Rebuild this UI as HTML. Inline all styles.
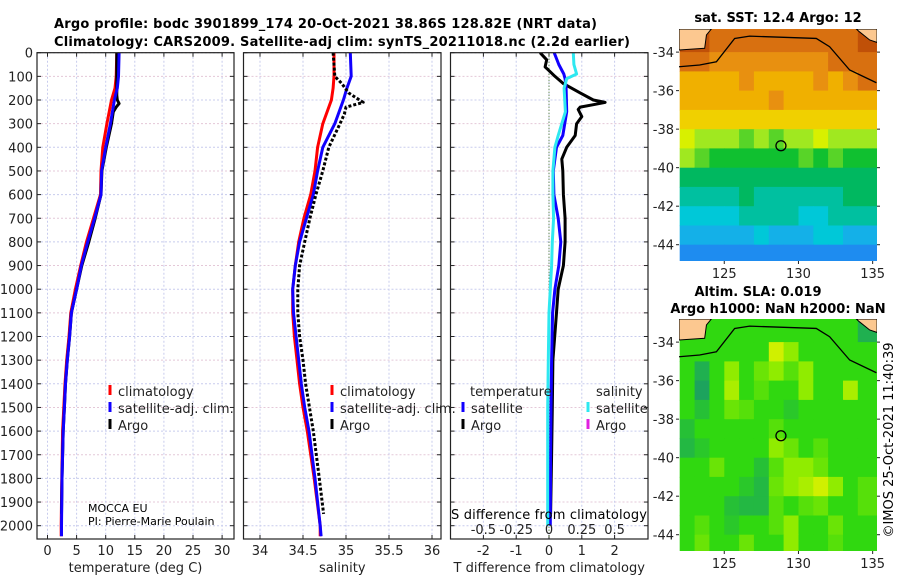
<!DOCTYPE html>
<html><head><meta charset="utf-8"><style>
html,body{margin:0;padding:0;background:#fff}
svg{display:block;font-family:"DejaVu Sans","Liberation Sans",sans-serif}
</style></head><body>
<svg id="fig" width="900" height="580" viewBox="0 0 900 580" xmlns="http://www.w3.org/2000/svg">
<text x="54" y="28" font-size="13" font-weight="bold" textLength="543">Argo profile: bodc 3901899_174 20-Oct-2021 38.86S 128.82E (NRT data)</text>
<text x="54" y="46" font-size="13" font-weight="bold" textLength="576">Climatology: CARS2009. Satellite-adj clim: synTS_20211018.nc (2.2d earlier)</text>
<g id="plots"></g>
<text x="88" y="512" font-size="11">MOCCA EU</text>
<text x="88" y="525" font-size="11">PI: Pierre-Marie Poulain</text>
<text x="451" y="519" font-size="13" textLength="196">S difference from climatology</text>
<text x="889" y="440" font-size="13" text-anchor="middle" transform="rotate(-90 889 440)" dy="4">©IMOS 25-Oct-2021 11:40:39</text>
<text x="778" y="22" font-size="13" font-weight="bold" text-anchor="middle">sat. SST: 12.4 Argo: 12</text>
<text x="758" y="296" font-size="13" font-weight="bold" text-anchor="middle">Altim. SLA: 0.019</text>
<text x="778" y="313" font-size="13" font-weight="bold" text-anchor="middle">Argo h1000: NaN h2000: NaN</text>
</svg>
<script>
// ---------- data ----------
const depthTicks=[0,100,200,300,400,500,600,700,800,900,1000,1100,1200,1300,1400,1500,1600,1700,1800,1900,2000];
const tempTicks=[0,5,10,15,20,25,30];
const salTicks=[34,34.5,35,35.5,36];
const tdiffTicks=[-2,-1,0,1,2];
const sdiffTicks=[-0.5,-0.25,0,0.25,0.5];
const sdiffTickLabels=["-0.5","-0.25","0","0.25","0.5"];
const dClim=[0,100,150,200,300,400,500,600,700,800,900,1000,1100,1200,1300,1400,1500,1600,1800,2000,2045];
const tClim=[11.9,11.8,11.6,11.0,10.2,9.5,9.2,9.1,7.9,6.7,5.7,4.8,4.0,3.7,3.3,3.0,2.8,2.6,2.45,2.35,2.35];
const tSat=[12.3,12.2,12.0,11.5,10.8,10.0,9.3,9.2,8.1,6.9,5.8,5.0,4.1,3.8,3.4,3.1,2.9,2.7,2.5,2.4,2.4];
const dArgoT=[0,100,180,200,215,230,250,300,400,500,600,700,800,900,1000,1100,1200,1300,1400,1500,1600,1800,1950];
const tArgo=[11.9,11.9,11.9,12.0,12.3,11.8,11.3,11.0,10.1,9.35,9.2,8.2,7.1,5.9,5.0,4.1,3.8,3.4,3.1,2.9,2.7,2.5,2.4];
const sClim=[34.86,34.86,34.85,34.83,34.73,34.67,34.64,34.59,34.51,34.45,34.41,34.38,34.38,34.40,34.43,34.46,34.50,34.55,34.63,34.70,34.70];
const sSat=[35.05,35.06,35.01,34.97,34.87,34.73,34.67,34.62,34.54,34.46,34.41,34.38,34.39,34.42,34.45,34.48,34.52,34.57,34.64,34.70,34.71];
const dArgoS=[0,50,100,130,170,210,230,260,300,400,500,600,700,800,900,1000,1100,1200,1300,1400,1600,1800,1950];
const sArgo=[34.85,34.86,34.87,34.95,35.03,35.2,35.0,34.98,34.93,34.80,34.73,34.65,34.58,34.52,34.46,34.44,34.44,34.46,34.50,34.53,34.62,34.69,34.74];
const dDiff=[0,50,90,110,150,250,350,400,500,600,700,800,900,1000,1100,1300,1500,1700,2000];
const tDiffSat=[0.16,0.3,0.45,0.49,0.52,0.54,0.42,0.23,0.13,0.15,0.28,0.36,0.3,0.18,0.11,0.08,0.06,0.05,0.04];
const sDiffSat=[0.185,0.19,0.21,0.135,0.115,0.125,0.07,0.045,0.03,0.03,0.035,0.025,0.02,0.01,0.0,-0.005,-0.01,-0.01,-0.01];
const dArgoDiff=[0,30,60,80,100,130,170,200,210,220,230,240,270,300,350,400,450,500,600,700,800,900,1000,1100,1300,1500,1700,1950];
const tDiffArgo=[-0.27,-0.07,-0.12,0.03,0.18,0.43,0.95,1.35,1.71,1.35,0.95,0.89,1.0,0.84,0.8,0.54,0.39,0.42,0.44,0.49,0.49,0.44,0.28,0.23,0.12,0.1,0.08,0.05];
// maps
const mapLats=[-33,-34,-35,-36,-37,-38,-39,-40,-41,-42,-43,-44,-45];
const mapLons=[122,123,124,125,126,127,128,129,130,131,132,133,134,135,136];
const latTicks=[-34,-36,-38,-40,-42,-44];
const lonTicks=[125,130,135];
const sst=[
[18,18,17,17,17,17,17,17,17,17,17,17,18,18],
[17,17,16,16,16,16,16,16,16,16,17,17,17,17],
[15,15,15,15,16,15,15,15,15,16,15,16,17,17],
[15,15,15,15,15,15,16,15,15,15,15,15,15,15],
[14,14,14,14,14,14,14,14,14,14,14,14,14,14],
[13.5,13,13,13,12.5,13,12.5,13,13,13.5,13,13,13,13],
[13,12.5,12,12,12,12,12,12,12.5,12,12.5,12,12,12],
[11.5,11.5,11.5,11.5,11.5,11.5,11.5,11.5,11.5,11.5,11.5,11.5,11.5,11.5],
[11,11,11,11,11.5,11,11,11,11,11,11,11.5,11.5,11.5],
[10.5,10.5,10.5,10.5,11,11,11,11,10.5,10.5,11,11,11,11],
[10,10,10,10,10,10.5,10,10,10,10.5,10.5,10,10,10],
[9.5,9.5,9.5,9.5,9.5,9.5,9.5,9.5,9.5,9.5,9.5,9.5,9.5,9.5]];
const sla=[
[1,1,1,1,1,1,1,1,1,1,1,1,0.5,0.5],
[1,1,1,1,1,1,2,1.5,1,1,1,1,1,1],
[1,0.5,1,1.5,1,1.3,1.5,1.2,1.5,1,1,1,1,1],
[1,0.3,1,1.7,1,1.2,1,1,1.5,1,1,1.7,1,1],
[1,0.7,1,1.3,1.2,1,1,0.8,1,1,1,1,1,1],
[0.7,1,1,1,1,1,1.2,1,1,1,1,1,1,1],
[0.6,0.8,1,1,1,1,1.5,1.3,1,1.2,1,1,1,1],
[1,1,1.3,1,1,0.7,1.2,1.5,1.5,1.3,1,1,1,1],
[1,1,1,1,0.8,0.6,1.3,1.5,1.7,2,1.5,1,1.2,1.2],
[1,1,1,0.7,0.6,0.6,1.2,1,1.2,1.3,1,1,1.2,1.2],
[1,1.2,1,0.8,1,1,1.2,1.5,1,1,1.3,1,1,1],
[1,1.3,1,1,1.3,1,1,1.5,1,1,1.2,1,1,1]];
const shelfLon=[121.95,123.34,124.47,125.7,126.71,131.2,132.1,133.45,135.25];
const shelfLat=[-34.76,-34.67,-34.5,-33.29,-33.17,-33.29,-33.72,-34.93,-35.59];
const landLLon=[121.95,124.13,123.8,123.68,121.95];
const landLLat=[-32.8,-32.8,-33.11,-33.8,-33.89];
const landRLon=[133.9,135.3,135.3,134.8,134.1];
const landRLat=[-32.8,-32.8,-33.5,-33.37,-32.94];
const argoLon=128.82, argoLat=-38.86;

// ---------- drawing ----------
const NS='http://www.w3.org/2000/svg';
const root=document.getElementById('plots');
function mk(tag,attrs,parent){const e=document.createElementNS(NS,tag);for(const k in attrs)e.setAttribute(k,attrs[k]);(parent||root).appendChild(e);return e;}
const Y0=52.7,YS=0.2365,PT=52.7,PB=539;
const yD=d=>Y0+d*YS;
const panels=[
 {x0:37,x1:234,fx:v=>47.5+v*5.82,ticks:tempTicks,labels:tempTicks.map(String),title:'temperature (deg C)',name:'temperature'},
 {x0:243.5,x1:441,fx:v=>260+(v-34)*86,ticks:salTicks,labels:salTicks.map(String),title:'salinity',name:'salinity'},
 {x0:450.5,x1:648,fx:v=>549+v*32.8,ticks:tdiffTicks,labels:tdiffTicks.map(String),title:'T difference from climatology',name:'difference'}];
const fxS=v=>549+v*4*32.8;
panels.forEach((p,i)=>{
 const g=mk('g',{});
 
 
 mk('rect',{x:p.x0,y:PT,width:p.x1-p.x0,height:PB-PT,fill:'#fff'},g);
 depthTicks.forEach((d,k)=>{
  const l=mk('line',{x1:p.x0,x2:p.x1,y1:yD(d),y2:yD(d),stroke:k%2?'#e4c8d8':'#c8cced','stroke-width':1,'stroke-dasharray':'2,2'},g);
  
  
  mk('line',{x1:p.x0,x2:p.x0+4,y1:yD(d),y2:yD(d),stroke:'#222'},g);
  mk('line',{x1:p.x1-4,x2:p.x1,y1:yD(d),y2:yD(d),stroke:'#222'},g);
  if(i===0){const t=mk('text',{x:33,y:yD(d)+5,'font-size':13,'text-anchor':'end',fill:'#222'},g);t.textContent=d;
   
   }
 });
 p.ticks.forEach((v,k)=>{
  const x=p.fx(v);
  mk('line',{x1:x,x2:x,y1:PT,y2:PB,stroke:'#c8cced','stroke-width':1,'stroke-dasharray':'2,2'},g);
  mk('line',{x1:x,x2:x,y1:PB-4,y2:PB,stroke:'#222'},g);
  mk('line',{x1:x,x2:x,y1:PT,y2:PT+4,stroke:'#222'},g);
  const t=mk('text',{x:x,y:555,'font-size':13,'text-anchor':'middle',fill:'#222'},g);t.textContent=p.labels[k];
  
  
 });
 const at=mk('text',{x:(p.x0+p.x1)/2,y:572,'font-size':13,'text-anchor':'middle',fill:'#222'},g);at.textContent=p.title;
 
 
 p.g=g;
});
function line(g,xs,ds,fx,color,w,dash,name){
 const pts=xs.map((v,k)=>fx(v).toFixed(1)+','+yD(ds[k]).toFixed(1)).join(' ');
 const a={points:pts,fill:'none',stroke:color,'stroke-width':w,'stroke-linejoin':'round'};
 if(dash)a['stroke-dasharray']=dash;
 const e=mk('polyline',a,g);
 
 
}
const defs=mk('defs',{});
panels.forEach((p,i)=>{const c=mk('clipPath',{id:'c'+i},defs);mk('rect',{x:p.x0,y:PT,width:p.x1-p.x0,height:PB-PT},c);});
const g0=mk('g',{'clip-path':'url(#c0)'},panels[0].g),g1=mk('g',{'clip-path':'url(#c1)'},panels[1].g),g2=mk('g',{'clip-path':'url(#c2)'},panels[2].g);
line(g0,tClim,dClim,panels[0].fx,'#f00',3,null,'temperature-climatology-line');
line(g0,tArgo,dArgoT,panels[0].fx,'#000',3,null,'temperature-argo-line');
line(g0,tSat,dClim,panels[0].fx,'#10f',3,null,'temperature-satellite-line');
line(g1,sClim,dClim,panels[1].fx,'#f00',3,null,'salinity-climatology-line');
line(g1,sSat,dClim,panels[1].fx,'#10f',3,null,'salinity-satellite-line');
line(g1,sArgo,dArgoS,panels[1].fx,'#000',3,'3,2','salinity-argo-line');
{const z=mk('line',{x1:549,x2:549,y1:PT,y2:PB,stroke:'#3a6a20','stroke-width':1,'stroke-dasharray':'1,2'},g2);
 
 }
line(g2,tDiffArgo,dArgoDiff,panels[2].fx,'#000',3,null,'tdiff-argo-line');
line(g2,tDiffSat,dDiff,panels[2].fx,'#10f',3,null,'tdiff-satellite-line');
line(g2,sDiffSat,dDiff,fxS,'#2ee8f0',3,null,'sdiff-satellite-line');
panels.forEach(p=>mk('rect',{x:p.x0,y:PT,width:p.x1-p.x0,height:PB-PT,fill:'none',stroke:'#222','stroke-width':1.2},p.g));
sdiffTicks.forEach((v,k)=>{const t=mk('text',{x:fxS(v),y:534,'font-size':13,'text-anchor':'middle',fill:'#222'});t.textContent=sdiffTickLabels[k];
 
 });
function legend(x,y,color,label){
 const g=mk('g',{});
 
 
 mk('rect',{x:x-1.5,y:y-11,width:3,height:10,fill:color},g);
 const t=mk('text',{x:x+8,y:y,'font-size':13,fill:'#222'},g);t.textContent=label;
}
[[110,'#f00','climatology'],[110,'#10f','satellite-adj. clim.'],[110,'#000','Argo']].forEach((e,k)=>legend(e[0],396+k*17,e[1],e[2]));
[[332,'#f00','climatology'],[332,'#10f','satellite-adj. clim.'],[332,'#000','Argo']].forEach((e,k)=>legend(e[0],396+k*17,e[1],e[2]));
{const t=mk('text',{x:470,y:396,'font-size':13,fill:'#222'});t.textContent='temperature';
 
 
 const s=mk('text',{x:596,y:396,'font-size':13,fill:'#222'});s.textContent='salinity';
 
 }
legend(463,413,'#10f','satellite');legend(463,430,'#000','Argo');
legend(588,413,'#2ee8f0','satellite');legend(588,430,'#e020e0','Argo');

function lerpC(stops,v){
 if(v<=stops[0][0])return stops[0][1];
 for(let i=1;i<stops.length;i++){if(v<=stops[i][0]){const a=stops[i-1],b=stops[i],t=(v-a[0])/(b[0]-a[0]);
  const c=a[1].map((x,j)=>Math.round(x+(b[1][j]-x)*t));return c;}}
 return stops[stops.length-1][1];}
const sstStops=[[9.5,[30,140,240]],[10,[20,176,232]],[10.5,[0,200,216]],[11,[0,192,160]],[11.5,[0,184,96]],[12,[16,192,48]],[13,[160,232,32]],[13.5,[216,240,0]],[14,[240,208,0]],[15,[240,176,0]],[16,[232,144,16]],[17,[216,112,16]],[18,[192,80,8]]];
const slaStops=[[0,[24,144,112]],[0.5,[32,176,80]],[1,[48,216,16]],[1.5,[144,236,0]],[2,[208,240,0]]];
function drawMap(top,values,stops,name){
 const L=679,R=877,T=top,B=top+232;
 const fx=lon=>L+(lon-121.95)*14.84, fy=lat=>T+(-32.8-lat)*19.26;
 const g=mk('g',{});
 
 
 const cid='m'+top;const c=mk('clipPath',{id:cid},defs);mk('rect',{x:L,y:T,width:R-L,height:B-T},c);
 const cg=mk('g',{'clip-path':'url(#'+cid+')'},g);
 values.forEach((row,i)=>row.forEach((v,j)=>{
  const col=lerpC(stops,v);
  const y0=i===0?T:fy(mapLats[i]);
  const h=fy(mapLats[i+1])-y0+0.6;
  const r=mk('rect',{x:fx(mapLons[j]).toFixed(1),y:y0.toFixed(1),width:15.4,height:h.toFixed(1),fill:'rgb('+col.join(',')+')'},cg);
  
  
 }));
 [[landLLon,landLLat],[landRLon,landRLat]].forEach(([lo,la])=>{
  const p=mk('polygon',{points:lo.map((x,k)=>fx(x)+','+fy(la[k])).join(' '),fill:'#fcc890',stroke:'#000','stroke-width':1},cg);
  
  
 });
 const sh=mk('polyline',{points:shelfLon.map((x,k)=>fx(x)+','+fy(shelfLat[k])).join(' '),fill:'none',stroke:'#000','stroke-width':1.3},cg);
 
 
 const ci=mk('circle',{cx:fx(argoLon),cy:fy(argoLat),r:5,fill:'none',stroke:'#000','stroke-width':1.3},g);
 
 
 latTicks.forEach(la=>{const y=fy(la);
  mk('line',{x1:L-3,x2:L,y1:y,y2:y,stroke:'#222'},g);mk('line',{x1:R,x2:R+3,y1:y,y2:y,stroke:'#222'},g);
  const t=mk('text',{x:674,y:y+5,'font-size':13,'text-anchor':'end',fill:'#222'},g);t.textContent=la;
  
  });
 lonTicks.forEach(lo=>{const x=fx(lo);
  mk('line',{x1:x,x2:x,y1:B,y2:B+3,stroke:'#222'},g);
  const t=mk('text',{x:x,y:B+17,'font-size':13,'text-anchor':'middle',fill:'#222'},g);t.textContent=lo;
  
  });
}
drawMap(29,sst,sstStops,'sst-map');
drawMap(319,sla,slaStops,'sla-map');
</script>
</body></html>
